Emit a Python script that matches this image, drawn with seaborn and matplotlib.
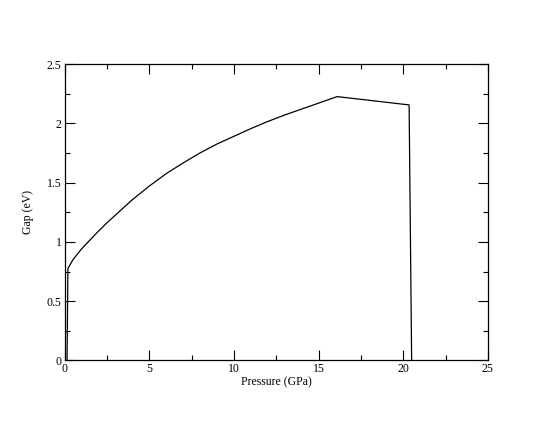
import matplotlib
matplotlib.use("Agg")
import matplotlib.pyplot as plt
from matplotlib.ticker import MultipleLocator
import seaborn as sns
import pandas as pd

pressure = [0.15, 0.2, 0.5, 1.0, 1.5, 2.0, 2.5, 3.0, 4.0, 5.0, 6.0, 7.0, 8.0,
            9.0, 10.0, 11.0, 12.0, 13.0, 14.0, 15.0, 16.1, 20.35, 20.5]
gap = [0.0, 0.775, 0.85, 0.94, 1.015, 1.09, 1.16, 1.225, 1.355, 1.47, 1.575,
       1.665, 1.75, 1.825, 1.89, 1.955, 2.015, 2.07, 2.12, 2.17, 2.225, 2.155, 0.0]

df = pd.DataFrame({"Pressure": pressure, "Gap": gap})

sns.set_theme(style="white")
plt.rcParams['font.family'] = ['Liberation Serif', 'DejaVu Serif']

fig = plt.figure(figsize=(5.5, 4.25), dpi=100)
ax = fig.add_axes([0.1173, 0.1518, 0.7697, 0.6976])
sns.lineplot(data=df, x="Pressure", y="Gap", sort=False, color="black",
             linewidth=0.9, ax=ax, estimator=None)

ax.set_xlim(0, 25)
ax.set_ylim(0, 2.5)
ax.xaxis.set_major_locator(MultipleLocator(5))
ax.xaxis.set_minor_locator(MultipleLocator(2.5))
ax.yaxis.set_major_locator(MultipleLocator(0.5))
ax.yaxis.set_minor_locator(MultipleLocator(0.25))
ax.set_xticklabels([f"{v:g}" for v in ax.get_xticks()])
ax.set_yticklabels([f"{v:g}" for v in ax.get_yticks()])
ax.tick_params(which="both", direction="in", top=True, right=True,
               bottom=True, left=True, color="black", labelsize=8.5,
               labelcolor="black", width=0.8)
ax.tick_params(which="major", length=7, pad=2)
ax.tick_params(which="minor", length=3.5)
for s in ax.spines.values():
    s.set_color("black")
    s.set_linewidth(0.9)
ax.set_xlabel("Pressure (GPa)", fontsize=8.5, color="black", labelpad=1)
ax.set_ylabel("Gap (eV)", fontsize=8.5, color="black", labelpad=9)

fig.savefig("out.png", dpi=100)
